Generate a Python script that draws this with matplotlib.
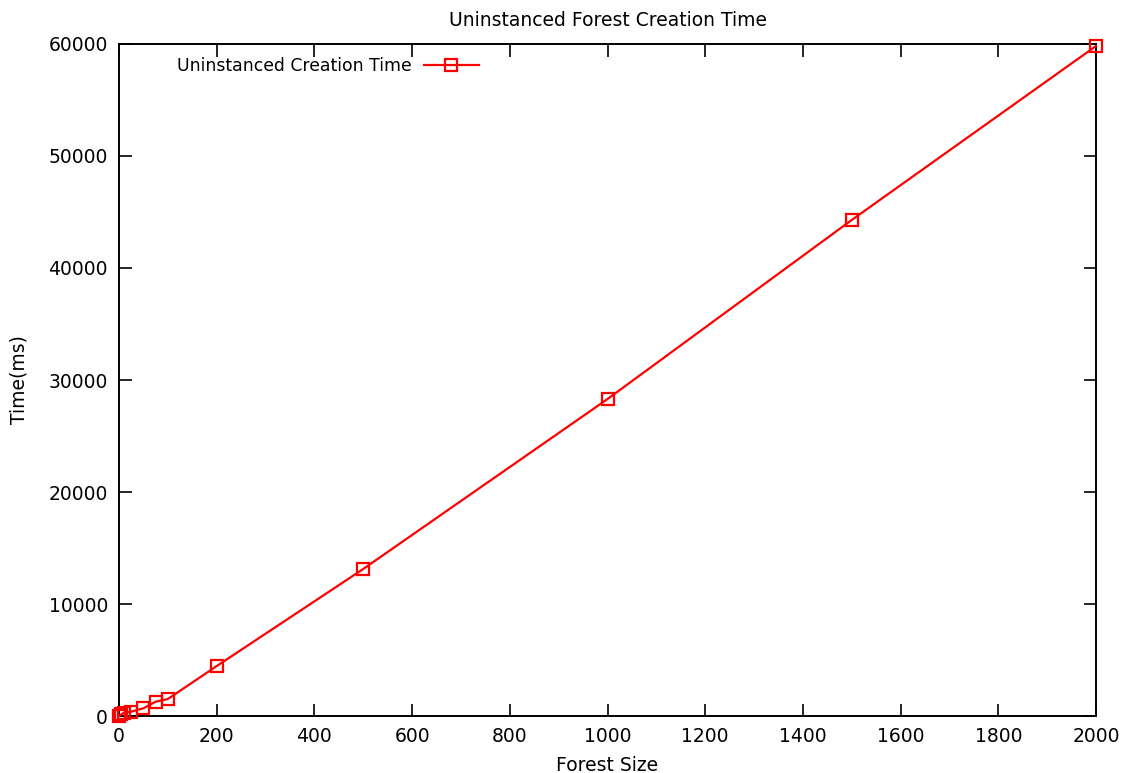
import numpy as np
import matplotlib
matplotlib.use('Agg')
import matplotlib.pyplot as plt

forest_size = [1, 5, 10, 25, 50, 75, 100, 200, 500, 1000, 1500, 2000]
creation_ms = [30, 150, 290, 390, 690, 1280, 1520, 4460, 13130, 28300, 44290, 59820]

plt.rcParams['font.family'] = 'DejaVu Sans'
plt.rcParams['font.size'] = 13.5

fig = plt.figure(figsize=(11.29, 7.73), dpi=100)
ax = fig.add_axes([0.1054, 0.0737, 0.8654, 0.8694])

ax.plot(forest_size, creation_ms, color='red', lw=1.6, marker='s', ms=8,
        mfc='none', mec='red', mew=1.6, label='Uninstanced Creation Time',
        clip_on=False, zorder=3)

ax.set_xlim(0, 2000)
ax.set_ylim(0, 60000)
ax.set_xticks(np.arange(0, 2001, 200))
ax.set_yticks(np.arange(0, 60001, 10000))
ax.tick_params(direction='in', top=True, right=True, length=9, width=1.2, pad=8)
for s in ax.spines.values():
    s.set_linewidth(1.4)

ax.set_title('Uninstanced Forest Creation Time', fontsize=13.5, pad=13)
ax.set_xlabel('Forest Size', labelpad=7)
ax.set_ylabel('Time(ms)', labelpad=14)

ax.legend(loc='upper left', markerfirst=False, frameon=False, fontsize=12.4,
          handlelength=3.2, handletextpad=0.7, bbox_to_anchor=(0.048, 0.997),
          borderaxespad=0.25)

fig.savefig('out.png', dpi=100)
